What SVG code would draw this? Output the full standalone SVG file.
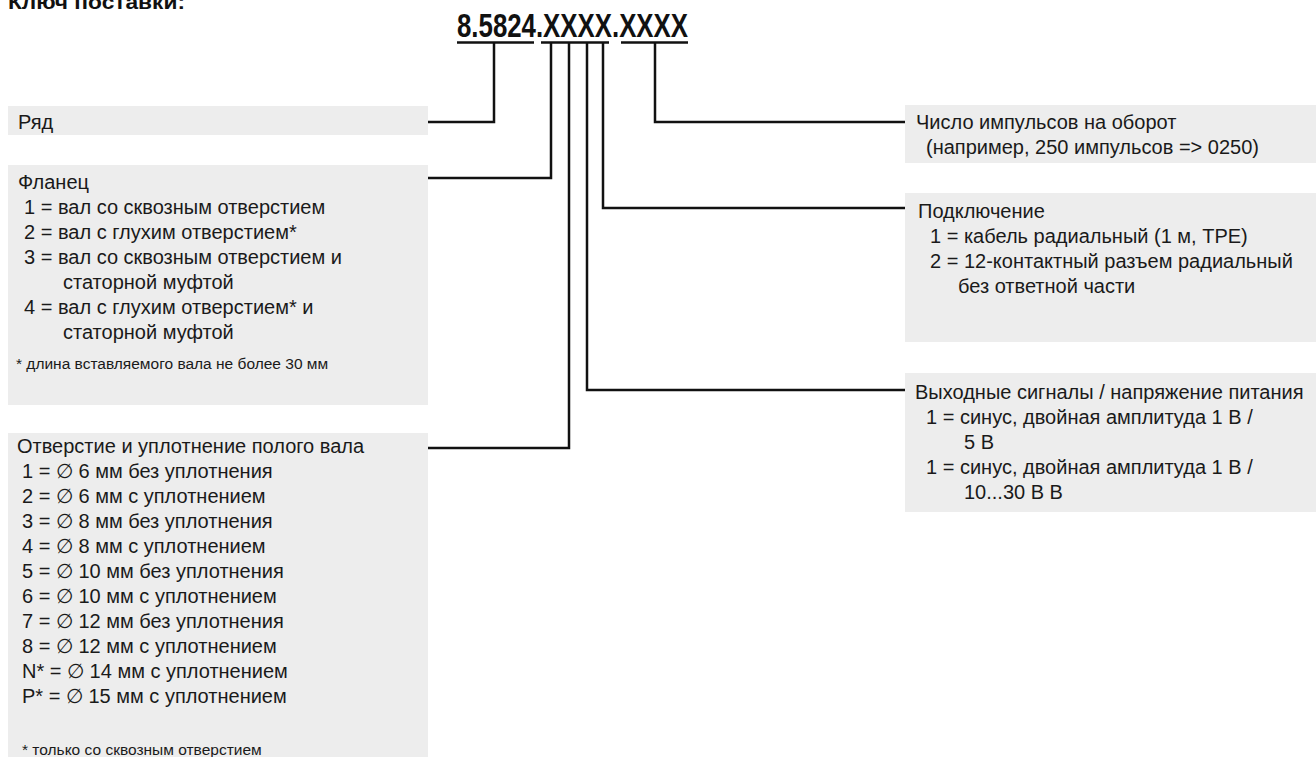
<svg xmlns="http://www.w3.org/2000/svg" width="1316" height="757" viewBox="0 0 1316 757">
<style>
.box{fill:#ededed}
.t{font-family:"Liberation Sans",Arial,sans-serif;font-size:20px;fill:#1a1a1a}
.fn{font-family:"Liberation Sans",Arial,sans-serif;font-size:15.5px;fill:#1a1a1a}
.code{font-family:"Liberation Sans",Arial,sans-serif;font-size:33px;font-weight:bold;fill:#111}
.ln{fill:none;stroke:#111;stroke-width:2.5}
.ul{stroke:#111;stroke-width:2.5}
</style>
<rect width="1316" height="757" fill="#fff"/>
<g id="title"><text x="8" y="9" font-family="'Liberation Sans',Arial,sans-serif" font-weight="bold" font-size="20" fill="#111" textLength="177" lengthAdjust="spacingAndGlyphs">Ключ поставки:</text></g>
<g id="code">
<text class="code" x="457" y="37" textLength="231" lengthAdjust="spacingAndGlyphs">8.5824.XXXX.XXXX</text>
<line class="ul" x1="457" y1="42.5" x2="534" y2="42.5"/>
<line class="ul" x1="541" y1="42.5" x2="609" y2="42.5"/>
<line class="ul" x1="621" y1="42.5" x2="688" y2="42.5"/>
</g>
<g id="connectors">
<path class="ln" d="M428,122 H494 V43"/>
<path class="ln" d="M428,178 H551 V43"/>
<path class="ln" d="M428,448 H569 V43"/>
<path class="ln" d="M905,390 H587 V43"/>
<path class="ln" d="M905,208 H603 V43"/>
<path class="ln" d="M905,122 H655 V43"/>
</g>
<g id="ryad">
<rect class="box" x="8" y="106" width="420" height="29"/>
<text class="t" x="18" y="129">Ряд</text>
</g>
<g id="flanec">
<rect class="box" x="8" y="165" width="420" height="240"/>
<text class="t" x="18" y="189">Фланец</text>
<text class="t" x="24" y="214">1 = вал со сквозным отверстием</text>
<text class="t" x="24" y="239">2 = вал с глухим отверстием*</text>
<text class="t" x="24" y="264">3 = вал со сквозным отверстием и</text>
<text class="t" x="63" y="289">статорной муфтой</text>
<text class="t" x="24" y="314">4 = вал с глухим отверстием* и</text>
<text class="t" x="63" y="339">статорной муфтой</text>
<text class="fn" x="16" y="369">* длина вставляемого вала не более 30 мм</text>
</g>
<g id="otverstie">
<rect class="box" x="8" y="433" width="420" height="324"/>
<text class="t" x="17" y="453">Отверстие и уплотнение полого вала</text>
<text class="t" x="22" y="478">1 = ∅ 6 мм без уплотнения</text>
<text class="t" x="22" y="503">2 = ∅ 6 мм с уплотнением</text>
<text class="t" x="22" y="528">3 = ∅ 8 мм без уплотнения</text>
<text class="t" x="22" y="553">4 = ∅ 8 мм с уплотнением</text>
<text class="t" x="22" y="578">5 = ∅ 10 мм без уплотнения</text>
<text class="t" x="22" y="603">6 = ∅ 10 мм с уплотнением</text>
<text class="t" x="22" y="628">7 = ∅ 12 мм без уплотнения</text>
<text class="t" x="22" y="653">8 = ∅ 12 мм с уплотнением</text>
<text class="t" x="22" y="678">N* = ∅ 14 мм с уплотнением</text>
<text class="t" x="22" y="703">P* = ∅ 15 мм с уплотнением</text>
<text class="fn" x="22" y="755">* только со сквозным отверстием</text>
</g>
<g id="chislo">
<rect class="box" x="905" y="105" width="411" height="58"/>
<text class="t" x="916" y="129">Число импульсов на оборот</text>
<text class="t" x="926" y="154">(например, 250 импульсов =&gt; 0250)</text>
</g>
<g id="podkl">
<rect class="box" x="905" y="193" width="411" height="149"/>
<text class="t" x="918" y="218">Подключение</text>
<text class="t" x="930" y="243">1 = кабель радиальный (1 м, TPE)</text>
<text class="t" x="930" y="268">2 = 12-контактный разъем радиальный</text>
<text class="t" x="958" y="293">без ответной части</text>
</g>
<g id="vyhod">
<rect class="box" x="905" y="373" width="411" height="139"/>
<text class="t" x="915" y="399">Выходные сигналы / напряжение питания</text>
<text class="t" x="926" y="424">1 = синус, двойная амплитуда 1 В /</text>
<text class="t" x="964" y="449">5 В</text>
<text class="t" x="926" y="474">1 = синус, двойная амплитуда 1 В /</text>
<text class="t" x="964" y="499">10...30 В В</text>
</g>
</svg>
